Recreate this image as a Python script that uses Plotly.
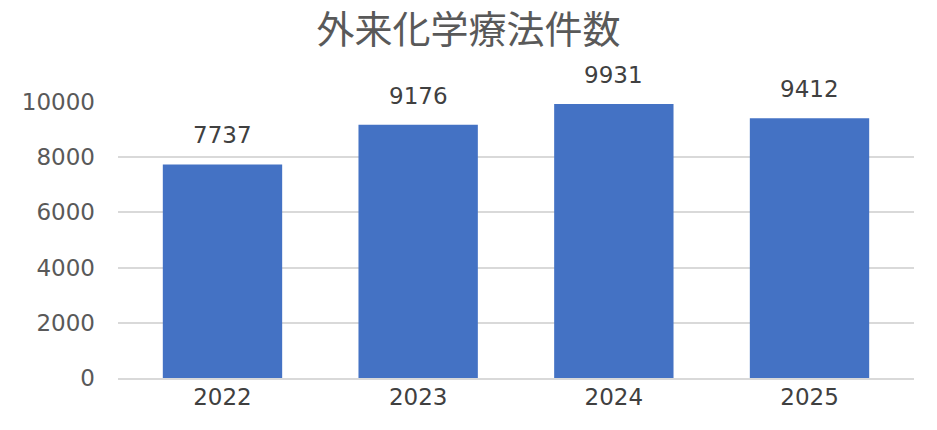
import plotly.graph_objects as go

years = ["2022", "2023", "2024", "2025"]
counts = [7737, 9176, 9931, 9412]
y_ticks = [0, 2000, 4000, 6000, 8000, 10000]

BAR = "#4472C4"
GRID = "#D9D9D9"
TXT = "#595959"
NUM_FONT = "DejaVu Sans"

fig = go.Figure()
fig.add_trace(
    go.Bar(
        x=years,
        y=counts,
        marker={"color": BAR, "line": {"width": 0}},
        hoverinfo="x+y",
        showlegend=False,
    )
)

# value labels sit a bit higher than plotly's own "outside" text;
# category index is used since "2022" would otherwise be read as a number
for i, v in enumerate(counts):
    fig.add_annotation(
        x=i, y=v, text=str(v), showarrow=False, yshift=29,
        font={"family": NUM_FONT, "size": 23, "color": "#404040"},
    )

fig.update_layout(
    width=937,
    height=430,
    paper_bgcolor="white",
    plot_bgcolor="white",
    bargap=0.39,
    title={
        "text": "外来化学療法件数",
        "x": 0.5,
        "xanchor": "center",
        "y": 0.930,
        "yanchor": "middle",
        "font": {"family": "Noto Sans CJK JP", "size": 38, "color": TXT},
    },
    margin={"l": 118, "r": 23, "t": 102, "b": 52},
    xaxis={
        "type": "category",
        "range": [-0.534, 3.534],
        "automargin": False,
        "showgrid": False,
        "showline": True,
        "linecolor": GRID,
        "linewidth": 1.5,
        "ticks": "",
        "ticklabelstandoff": -2,
        "tickfont": {"family": NUM_FONT, "size": 23, "color": "#404040"},
    },
    yaxis={
        "range": [0, 10000],
        "automargin": False,
        "tickvals": y_ticks,
        "tickformat": "d",
        "showgrid": True,
        "gridcolor": GRID,
        "gridwidth": 1.5,
        "zeroline": False,
        "showline": False,
        "ticks": "",
        "ticklabelstandoff": 22,
        "tickfont": {"family": NUM_FONT, "size": 23, "color": TXT},
    },
)

# drop the default body margin so the figure fills the window exactly
fig.write_html(
    "out.html",
    config={"displayModeBar": False},
    post_script="document.body.style.margin='0';",
)
